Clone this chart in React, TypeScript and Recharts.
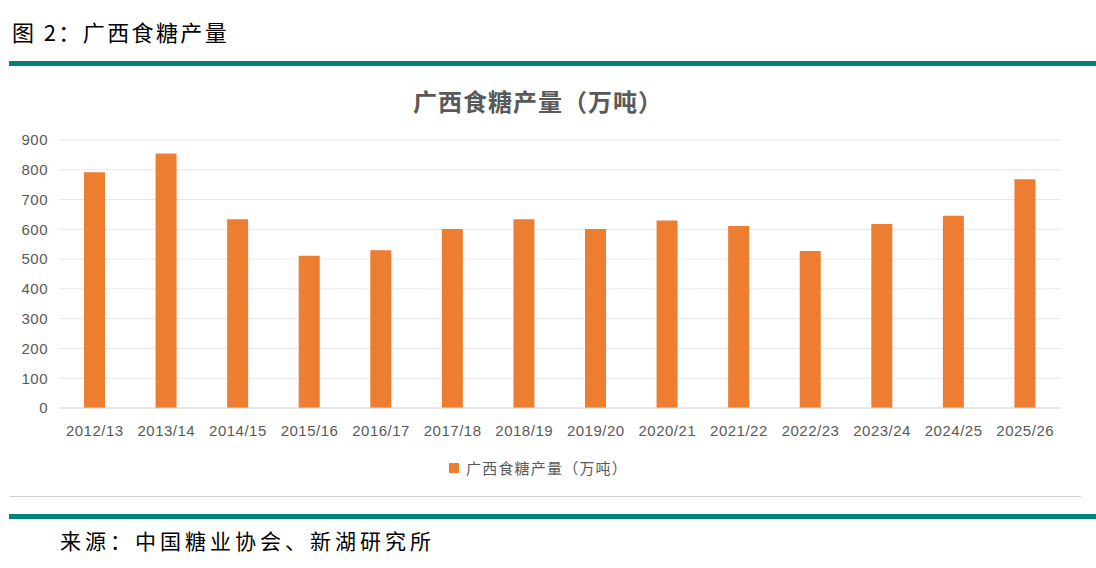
import { Bar, BarChart, CartesianGrid, XAxis, YAxis } from 'recharts'

const seasons = ['2012/13', '2013/14', '2014/15', '2015/16', '2016/17', '2017/18', '2018/19', '2019/20', '2020/21', '2021/22', '2022/23', '2023/24', '2024/25', '2025/26']
const output = [792, 855, 634, 511, 530, 601, 634, 601, 630, 611, 527, 618, 646, 768]
const yTicks = [0, 100, 200, 300, 400, 500, 600, 700, 800, 900]

const seriesName = '广西食糖产量（万吨）'
const data = seasons.map((season, i) => ({ season, value: output[i] }))

const teal = '#00827d'
const orange = '#ed7d31'
const grey = '#595959'
const tickFont = { fontSize: 15, fill: grey, fontFamily: '"Liberation Sans", Arial, sans-serif', letterSpacing: 0.5 }

export default function App() {
  return (
    <div style={{ position: 'absolute', left: 0, top: 0, width: 1096, height: 568, background: '#fff', overflow: 'hidden' }}>
      <div style={{ position: 'absolute', left: 12, top: 15, fontFamily: '"Noto Sans CJK SC", serif', fontSize: 22, color: '#000', letterSpacing: 2.4, whiteSpace: 'nowrap' }}>
        图 2：广西食糖产量
      </div>
      <div style={{ position: 'absolute', left: 9, top: 61, width: 1087, height: 5, background: teal }} />
      <div style={{ position: 'absolute', left: 413, top: 83, fontFamily: '"Noto Sans CJK SC", sans-serif', fontWeight: 700, fontSize: 24, color: grey, letterSpacing: 1, whiteSpace: 'nowrap' }}>
        {seriesName}
      </div>
      <div style={{ position: 'absolute', left: 0, top: 0 }}>
        <BarChart width={1096} height={568} data={data} margin={{ top: 140, right: 35, left: 0, bottom: 130 }}>
          <CartesianGrid vertical={false} stroke="#e6e6e6" strokeWidth={1} />
          <XAxis
            dataKey="season"
            tick={tickFont}
            tickLine={false}
            axisLine={{ stroke: '#d9d9d9' }}
            interval={0}
            tickMargin={11}
            height={30}
          />
          <YAxis
            width={59}
            domain={[0, 900]}
            ticks={yTicks}
            tick={tickFont}
            tickLine={false}
            axisLine={false}
            tickMargin={5}
          />
          <Bar dataKey="value" name={seriesName} fill={orange} barSize={21} isAnimationActive={false} />
        </BarChart>
      </div>
      <div style={{ position: 'absolute', left: 449, top: 463, width: 10, height: 10, background: orange }} />
      <div style={{ position: 'absolute', left: 466, top: 457, fontFamily: '"Noto Sans CJK SC", sans-serif', fontSize: 15, color: grey, letterSpacing: 1.2, whiteSpace: 'nowrap' }}>
        {seriesName}
      </div>
      <div style={{ position: 'absolute', left: 10, top: 496, width: 1071, height: 1, background: '#d0d0d0' }} />
      <div style={{ position: 'absolute', left: 9, top: 514, width: 1087, height: 5, background: teal }} />
      <div style={{ position: 'absolute', left: 60, top: 525, fontFamily: '"Noto Sans CJK SC", serif', fontSize: 21, color: '#000', letterSpacing: 4, whiteSpace: 'nowrap' }}>
        来源：中国糖业协会、新湖研究所
      </div>
    </div>
  )
}
